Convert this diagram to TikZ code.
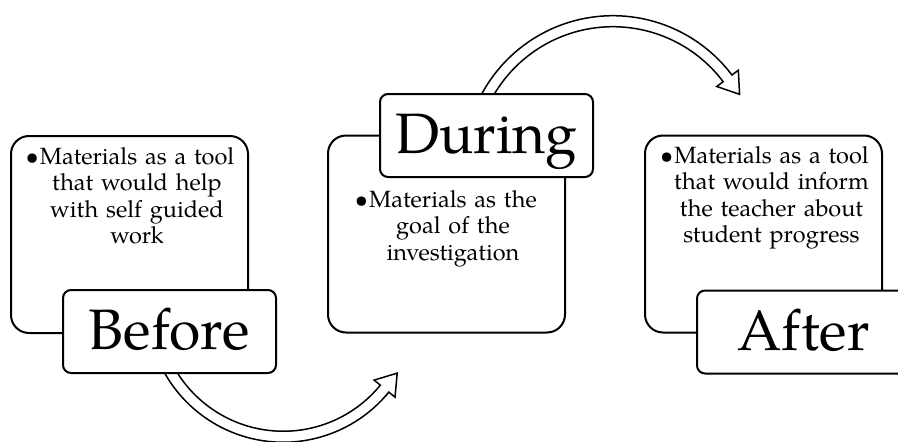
\documentclass[tikz,border=0pt]{standalone}
\usepackage{fontspec}
\setmainfont{TeX Gyre Pagella}
% Curved block arrow around a centre: cx, cy, radius, start angle, end angle, direction (+1/-1)
\newcommand\bendarrow[6]{%
  \pgfmathsetmacro\tipx{#1+#3*cos(#5)-(#6)*20*sin(#5)}%
  \pgfmathsetmacro\tipy{#2+#3*sin(#5)+(#6)*20*cos(#5)}%
  \draw[ringarrow]
    plot[domain=#4:#5,samples=60] ({#1+(#3+5.5)*cos(\x)},{#2+(#3+5.5)*sin(\x)})
    -- ({#1+(#3+13.5)*cos(#5)},{#2+(#3+13.5)*sin(#5)})
    -- (\tipx,\tipy)
    -- ({#1+(#3-13.5)*cos(#5)},{#2+(#3-13.5)*sin(#5)})
    -- plot[domain=#5:#4,samples=60] ({#1+(#3-5.5)*cos(\x)},{#2+(#3-5.5)*sin(\x)})
    -- cycle;}
\begin{document}
\begin{tikzpicture}[x=1pt,y=-1pt,
  panel/.style={draw=black, line width=2pt, rounded corners=18pt, fill=white,
    minimum width=237pt, minimum height=197pt, inner sep=0pt},
  tag/.style={draw=black, line width=2pt, rounded corners=8pt, fill=white,
    minimum width=213pt, minimum height=83pt, inner sep=0pt,
    text height=36pt, text depth=0pt, font=\fontsize{57}{60}\selectfont},
  bodytext/.style={anchor=base, align=center, text width=230pt, inner sep=0pt,
    font=\fontsize{23.5}{26.6}\selectfont},
  ringarrow/.style={draw=black, line width=1.5pt, fill=white, line join=miter}
]
\useasboundingbox (0,0) rectangle (898,442);
\clip (0,0) rectangle (898,442);

% large content panels
\node[panel] (beforepanel) at (129.5,234.5) {};
\node[panel] (duringpanel) at (446.5,234) {};
\node[panel] (afterpanel)  at (763.5,234) {};

% curved arrows between the stages
\bendarrow{283.25}{306}{130.75}{152}{39.2}{-1}
\bendarrow{612.9}{164.75}{143.55}{-155}{-37}{1}

% stage labels
\node[tag] (beforetag) at (169.5,331.5) {Before};
\node[tag] (duringtag) at (486.5,135.5) {During};
\node[tag] (aftertag)  at (803.5,332) {After};

% bullet texts
\node[bodytext] (beforetext) at (137,164)
  {\llap{\textbullet\hspace{1pt}}Materials as a tool\\that would help\\with self guided\\work};
\node[bodytext] (duringtext) at (453,207)
  {\llap{\textbullet\hspace{1pt}}Materials as the\\goal of the\\investigation};
\node[bodytext] (aftertext) at (771.5,163)
  {\llap{\textbullet\hspace{1pt}}Materials as a tool\\that would inform\\the teacher about\\student progress};
\end{tikzpicture}
\end{document}
